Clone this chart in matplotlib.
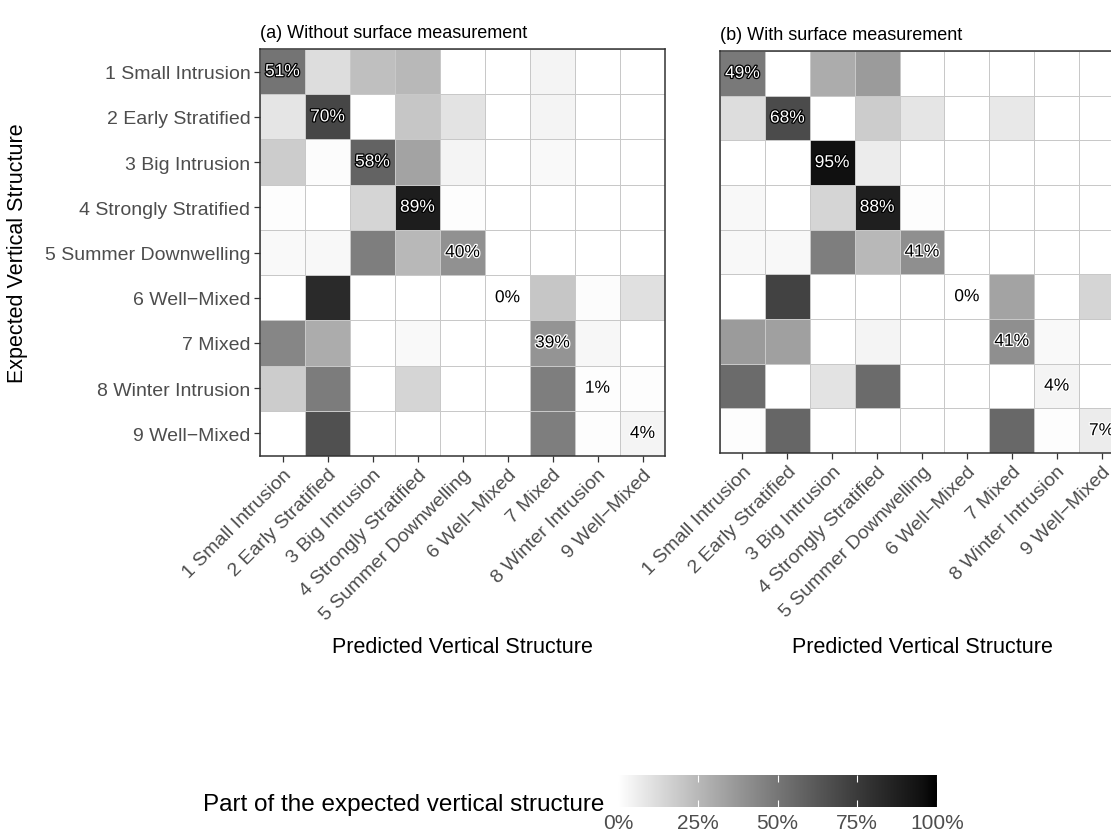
import numpy as np
import matplotlib
matplotlib.use('Agg')
import matplotlib.pyplot as plt
import matplotlib.patheffects as pe
from matplotlib.colors import ListedColormap

#---------------------------------------------------------
# Dados (% da estrutura esperada)
#---------------------------------------------------------

classes = ['1 Small Intrusion', '2 Early Stratified', '3 Big Intrusion',
           '4 Strongly Stratified', '5 Summer Downwelling', '6 Well\u2212Mixed',
           '7 Mixed', '8 Winter Intrusion', '9 Well\u2212Mixed']

# linhas = esperado, colunas = previsto
sem_superficie = np.array([
    [51, 12, 23, 25,  0, 0,  4,   0,   0],
    [ 9, 70,  0, 20, 10, 0,  4,   0,   0],
    [18, 1.5, 58, 33, 4, 0,  2,   0,   0],
    [ 1,  0, 15, 89,  1, 0,  0,   0,   0],
    [ 2, 2.5, 47, 25, 40, 0, 0,   0,   0],
    [ 0, 83,  0,  0,  0, 0, 20, 1.5,  11],
    [44, 30,  0,  2,  0, 0, 39,   3,   0],
    [18, 48,  0, 15,  0, 0, 47,   1,   1],
    [ 0, 66,  0,  0,  0, 0, 47,   1,   4],
])

com_superficie = np.array([
    [49,  0, 30, 36,  0, 0,  0,   0,   0],
    [12, 68,  0, 18,  9, 0,  8,   0,   0],
    [ 0,  0, 95,  7,  0, 0,  0,   0,   0],
    [2.5, 0, 15, 88,  1, 0,  0,   0,   0],
    [2.5, 2.5, 47, 25, 41, 0, 0,  0,   0],
    [ 0, 72,  0,  0,  0, 0, 33,   0,  15],
    [36, 34,  0,  4,  0, 0, 41,   2,   0],
    [55,  0, 10, 55,  0, 0,  0,   4,   0],
    [ 1, 57,  0,  0,  0, 0, 56,   1,   7],
])

titulos = ['(a) Without surface measurement', '(b) With surface measurement']
cbar_ticks = [0, 25, 50, 75, 100]

#---------------------------------------------------------
# Escala de cinza (branco -> preto, interpolada em L*)
#---------------------------------------------------------

L = np.linspace(100, 0, 256)
fy = (L + 16) / 116
lin = np.where(fy**3 > 0.008856, fy**3, L / 903.3)
srgb = np.where(lin <= 0.0031308, 12.92 * lin, 1.055 * lin**(1 / 2.4) - 0.055)
srgb = np.clip(srgb, 0, 1)
cmap = ListedColormap(np.column_stack([srgb, srgb, srgb]))

plt.rcParams['font.family'] = ['Liberation Sans', 'DejaVu Sans']

W, H = 1111, 837
fig = plt.figure(figsize=(W / 100, H / 100), dpi=100)

# posições em pixels: esquerda, topo, direita, base
caixas = [(260, 50, 665, 457), (720, 52, 1124, 454)]

n = len(classes)
for k, (dados, titulo) in enumerate(zip([sem_superficie, com_superficie], titulos)):
    x0, y0, x1, y1 = caixas[k]
    ax = fig.add_axes([x0 / W, 1 - y1 / H, (x1 - x0) / W, (y1 - y0) / H])
    ax.pcolormesh(np.arange(n + 1), np.arange(n + 1), dados, cmap=cmap,
                  vmin=0, vmax=100, edgecolors='#c8c8c8', linewidth=0.7)
    ax.set_xlim(0, n)
    ax.set_ylim(n, 0)

    # rótulos da diagonal
    for i in range(n):
        v = dados[i, i]
        if v > 45:
            cor, borda = 'white', 'black'
        else:
            cor, borda = 'black', 'white'
        ax.text(i + 0.5, i + 0.5, f'{v:.0f}%', ha='center', va='center',
                fontsize=12.5, color=cor,
                path_effects=[pe.withStroke(linewidth=1.8, foreground=borda)])

    ax.set_xticks(np.arange(n) + 0.5)
    ax.set_xticklabels(classes, rotation=45, ha='right', rotation_mode='anchor',
                       fontsize=14, color='#4d4d4d')
    ax.set_yticks(np.arange(n) + 0.5)
    if k == 0:
        ax.set_yticklabels(classes, fontsize=14, color='#4d4d4d')
        ax.tick_params(axis='y', length=4, width=0.9, color='#333333', pad=3)
    else:
        ax.set_yticklabels([])
        ax.tick_params(axis='y', length=0)
    ax.tick_params(axis='x', length=4, width=0.9, color='#333333', pad=3)
    ax.set_title(titulo, loc='left', fontsize=13, pad=9)
    for s in ax.spines.values():
        s.set_color('#333333')
        s.set_linewidth(1.1)

    fig.text((x0 + x1) / 2 / W, 1 - 648 / H, 'Predicted Vertical Structure',
             ha='center', va='center', fontsize=15.5)

fig.text(18 / W, 1 - 253 / H, 'Expected Vertical Structure', rotation=90,
         ha='center', va='center', fontsize=15.5)

#---------------------------------------------------------
# Barra de cores
#---------------------------------------------------------

cax = fig.add_axes([618 / W, 1 - 808 / H, 319 / W, 32 / H])
grad = np.linspace(0, 100, 256).reshape(1, -1)
cax.imshow(grad, aspect='auto', cmap=cmap, vmin=0, vmax=100,
           extent=(0, 100, 0, 1))
cax.set_xlim(0, 100)
cax.set_yticks([])
cax.set_xticks(cbar_ticks)
cax.set_xticklabels([f'{t}%' for t in cbar_ticks], fontsize=15, color='#4d4d4d')
cax.tick_params(axis='x', direction='in', color='white', length=5, width=0.8,
                top=True, bottom=True, pad=4)
for s in cax.spines.values():
    s.set_visible(False)

fig.text(604 / W, 1 - 811 / H, 'Part of the expected vertical structure',
         ha='right', va='baseline', fontsize=17.5)

fig.savefig('out.png', dpi=100)
